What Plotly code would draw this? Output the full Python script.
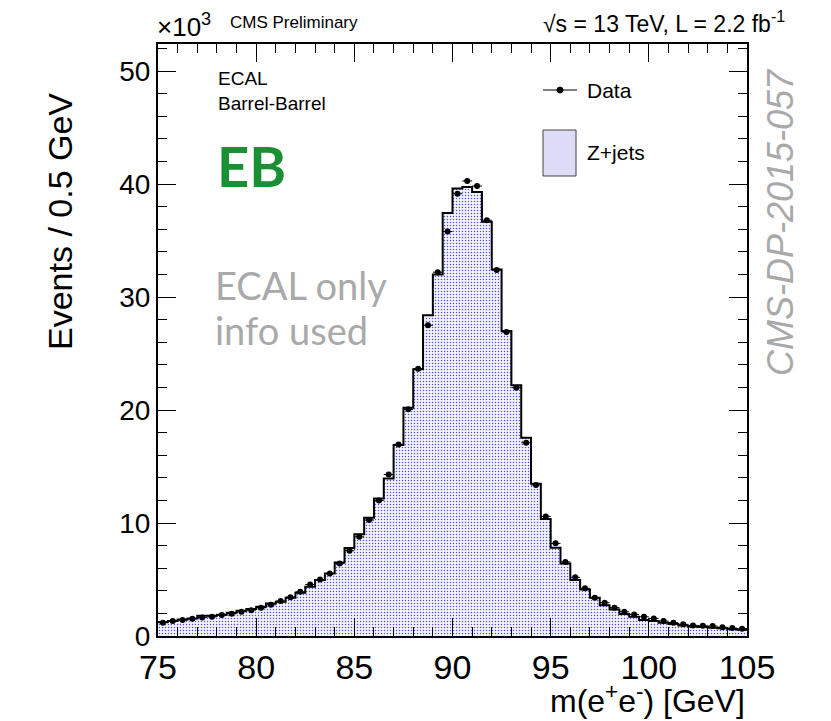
import numpy as np
import plotly.graph_objects as go

# ---- data (values in thousands of events per 0.5 GeV bin) ----
bin_edges_lo = 75.0
bin_width = 0.5
n_bins = 60

data_vals = [1.17, 1.32, 1.41, 1.52, 1.64, 1.70, 1.85, 1.97, 2.15, 2.29,
             2.50, 2.76, 3.09, 3.44, 3.91, 4.56, 5.00, 5.53, 6.42, 7.55,
             8.78, 10.26, 12.00, 14.30, 16.96, 20.06, 23.65, 27.50, 32.20, 35.80,
             39.15, 40.28, 39.83, 36.80, 32.40, 26.90, 21.98, 17.10, 13.36, 10.58,
             8.20, 6.56, 5.19, 4.22, 3.39, 2.95, 2.51, 2.15, 1.91, 1.70,
             1.56, 1.32, 1.18, 1.03, 0.94, 0.91, 0.88, 0.77, 0.70, 0.65]

mc_vals = [1.23, 1.32, 1.47, 1.56, 1.80, 1.80, 1.88, 2.06, 2.24, 2.38,
           2.59, 2.88, 3.03, 3.38, 3.82, 4.35, 4.95, 5.53, 6.51, 7.78,
           9.00, 10.47, 12.18, 13.95, 16.90, 20.20, 23.60, 28.40, 32.00, 37.44,
           39.60, 39.75, 39.30, 36.66, 32.45, 27.00, 22.20, 17.55, 13.47, 10.35,
           7.81, 6.42, 4.95, 4.12, 3.39, 2.73, 2.35, 1.94, 1.71, 1.41,
           1.32, 1.18, 1.06, 0.94, 0.85, 0.80, 0.74, 0.68, 0.62, 0.56]

x_tick_vals = [75, 80, 85, 90, 95, 100, 105]
y_tick_vals = [0, 10, 20, 30, 40, 50]

edges = bin_edges_lo + bin_width * np.arange(n_bins + 1)
centers = edges[:-1] + bin_width / 2
data_err = np.sqrt(np.array(data_vals) * 1000.0) / 1000.0

# ---- layout geometry (screen pixels; the page body has an 8px margin) ----
OFF = 8
W, H = 831 - OFF, 721 - OFF
L, R, T, B = 158, 747, 44, 636   # plot frame on screen
YMAX = 52.4


def px(x):
    return (x - L) / (R - L)


def py(y):
    return (B - y) / (B - T)


FONT = "Liberation Sans"

fig = go.Figure()

fig.add_trace(go.Bar(
    x=centers, y=mc_vals, width=bin_width,
    marker=dict(color="#ffffff", line=dict(width=0),
                pattern=dict(shape=".", fgcolor="#5050dc", bgcolor="#f4f4ff",
                             size=3, solidity=0.2, fillmode="replace")),
    showlegend=False, hoverinfo="skip",
))

fig.add_trace(go.Scatter(
    x=edges, y=list(mc_vals) + [mc_vals[-1]], mode="lines",
    line=dict(color="black", width=2, shape="hv"),
    showlegend=False, hoverinfo="skip",
))

fig.add_trace(go.Scatter(
    x=centers, y=data_vals, mode="markers",
    marker=dict(color="black", size=6),
    error_x=dict(type="constant", value=bin_width / 2, color="black", thickness=1, width=0),
    error_y=dict(type="data", array=data_err, color="black", thickness=1, width=0),
    showlegend=False,
))

axis_common = dict(
    showline=True, linecolor="black", linewidth=2, mirror="ticks",
    ticks="inside", ticklen=18, tickwidth=1, tickcolor="black",
    showgrid=False, zeroline=False, automargin=False,
)

fig.update_xaxes(
    range=[75, 105], tickvals=x_tick_vals, ticktext=[str(v) for v in x_tick_vals],
    tickfont=dict(family=FONT, size=34, color="black"),
    minor=dict(dtick=1, tick0=75, ticklen=9, ticks="inside", tickcolor="black", tickwidth=1),
    **axis_common,
)
fig.update_yaxes(
    range=[0, YMAX], tickvals=y_tick_vals, ticktext=[str(v) for v in y_tick_vals],
    tickfont=dict(family=FONT, size=28, color="black"),
    minor=dict(dtick=2, tick0=0, ticklen=9, ticks="inside", tickcolor="black", tickwidth=1),
    **axis_common,
)

ann = []


def text(x, y, s, size, color="black", family=FONT, xanchor="left", angle=0, yanchor="middle"):
    ann.append(dict(x=px(x), y=py(y), xref="paper", yref="paper", text=s, showarrow=False,
                    xanchor=xanchor, yanchor=yanchor, textangle=angle,
                    font=dict(family=family, size=size, color=color)))


text(155, 26, "×10<sup>3</sup>", 26)
text(228, 22, "CMS Preliminary", 17)
text(787, 22, "√s = 13 TeV, L = 2.2 fb<sup>-1</sup>", 23, xanchor="right")
text(216, 78, "ECAL", 19)
text(216, 103, "Barrel-Barrel", 19)
text(215, 165, "<b>EB</b>", 56, color="#1b8f33", family="Lato")
text(213, 285, "ECAL only", 38, color="#a9a9a9", family="Lato")
text(213, 330, "info used", 38, color="#a9a9a9", family="Lato")
text(60, 222, "Events / 0.5 GeV", 34, xanchor="center", angle=-90)
text(747, 699, "m(e<sup>+</sup>e<sup>-</sup>) [GeV]", 32, xanchor="right")
text(780, 222, "<i>CMS-DP-2015-057</i>", 36, color="#a9a9a9", xanchor="center", angle=-90)
# legend
text(585, 90, "Data", 21)
text(585, 152, "Z+jets", 21)

fig.update_layout(annotations=ann)

shapes = [
    dict(type="line", xref="paper", yref="paper", x0=px(543), x1=px(577), y0=py(90), y1=py(90),
         line=dict(color="black", width=1)),
    dict(type="circle", xref="paper", yref="paper", x0=px(557), x1=px(563), y0=py(87), y1=py(93),
         fillcolor="black", line=dict(color="black", width=1)),
    dict(type="rect", xref="paper", yref="paper", x0=px(543), x1=px(576), y0=py(130), y1=py(176),
         fillcolor="#dcdcf6", line=dict(color="#444444", width=1)),
]
fig.update_layout(shapes=shapes)

fig.update_layout(
    width=W, height=H,
    margin=dict(l=L - OFF, r=(W + OFF) - R, t=T - OFF, b=(H + OFF) - B, pad=0),
    paper_bgcolor="white", plot_bgcolor="white",
    bargap=0, showlegend=False,
    font=dict(family=FONT),
)

fig.write_html("out.html")
